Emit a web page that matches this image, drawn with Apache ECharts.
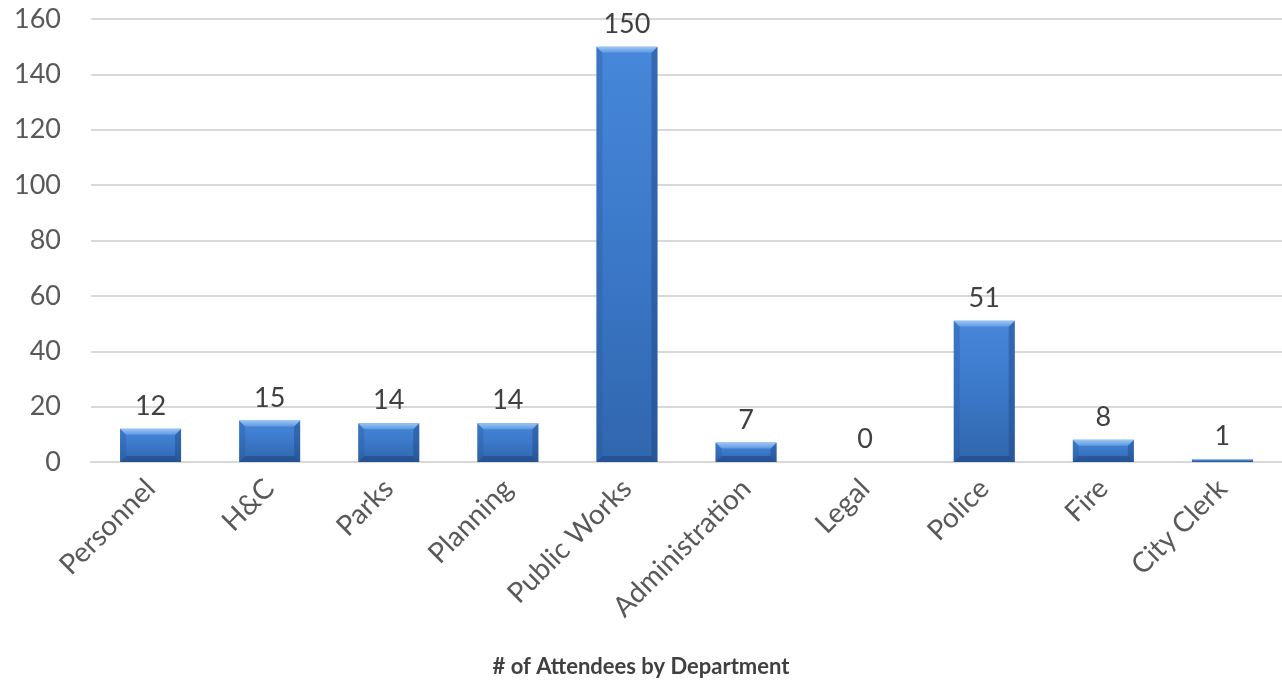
<!DOCTYPE html>
<html>
<head>
<meta charset="utf-8">
<script src="https://cdn.jsdelivr.net/npm/echarts@6/dist/echarts.min.js"></script>
<style>
	html, body { margin: 0; padding: 0; background: #fff; }
	#chart { width: 1282px; height: 683px; }
</style>
</head>
<body>
<div id="chart"></div>
<script>
var departments = ['Personnel', 'H&C', 'Parks', 'Planning', 'Public Works', 'Administration', 'Legal', 'Police', 'Fire', 'City Clerk'];
var attendees = [12, 15, 14, 14, 150, 7, 0, 51, 8, 1];
var yTicks = [0, 20, 40, 60, 80, 100, 120, 140, 160];

var fontFamily = 'Lato, "Open Sans", sans-serif';
var BAR_W = 61;

// face of the bar
var barColor = new echarts.graphic.LinearGradient(0, 0, 0, 1, [
	{ offset: 0, color: '#4687da' },
	{ offset: 0.5, color: '#3b78c8' },
	{ offset: 1, color: '#3066ad' }
]);

/**
 * bevel edges drawn over each bar
 */
var renderBevel = function (params, api) {
	var val = api.value(1);
	if (!val) {
		return null;
	}
	var top = api.coord([api.value(0), val]);
	var base = api.coord([api.value(0), 0]);
	var x0 = top[0] - BAR_W / 2;
	var x1 = top[0] + BAR_W / 2;
	var y0 = top[1];
	var y1 = base[1];
	var b = Math.min(6, (y1 - y0) / 2);
	var poly = function (pts, fill) {
		return { type: 'polygon', shape: { points: pts }, style: { fill: fill }, silent: true };
	};
	return {
		type: 'group',
		children: [
			poly([[x0, y0], [x0 + b, y0 + b], [x0 + b, y1 - b], [x0, y1]], 'rgba(40,90,160,0.35)'),
			poly([[x1, y0], [x1 - b, y0 + b], [x1 - b, y1 - b], [x1, y1]], 'rgba(30,70,130,0.45)'),
			poly([[x0, y1], [x0 + b, y1 - b], [x1 - b, y1 - b], [x1, y1]], 'rgba(25,60,115,0.45)'),
			poly([[x0, y0], [x1, y0], [x1 - b, y0 + b], [x0 + b, y0 + b]], new echarts.graphic.LinearGradient(0, 0, 0, 1, [
				{ offset: 0, color: '#9cc6f4' },
				{ offset: 1, color: '#5c98e2' }
			]))
		]
	};
};

var chart = echarts.init(document.getElementById('chart'));
chart.setOption({
	animation: false,
	title: {
		text: '# of Attendees by Department',
		left: 'center',
		top: 651,
		textStyle: {
			fontFamily: fontFamily,
			fontSize: 22,
			fontWeight: 'bold',
			color: '#404040'
		}
	},
	grid: {
		left: 91,
		right: -11,
		top: 19,
		bottom: 221
	},
	xAxis: {
		type: 'category',
		data: departments,
		axisLine: { lineStyle: { color: '#d9d9d9', width: 2 } },
		axisTick: { show: false },
		axisLabel: {
			rotate: 45,
			interval: 0,
			margin: 22,
			fontFamily: fontFamily,
			fontSize: 28,
			color: '#595959'
		}
	},
	yAxis: {
		type: 'value',
		min: yTicks[0],
		max: yTicks[yTicks.length - 1],
		interval: 20,
		axisLine: { show: false },
		axisTick: { show: false },
		splitLine: { lineStyle: { color: '#d9d9d9', width: 2 } },
		axisLabel: {
			margin: 30,
			fontFamily: fontFamily,
			fontSize: 27,
			color: '#595959'
		}
	},
	series: [
		{
			type: 'bar',
			data: attendees,
			barWidth: BAR_W,
			itemStyle: {
				color: barColor
			},
			label: {
				show: true,
				position: 'top',
				distance: 9,
				fontFamily: fontFamily,
				fontSize: 27,
				color: '#404040'
			}
		},
		{
			type: 'custom',
			silent: true,
			renderItem: renderBevel,
			data: attendees.map(function (v, i) { return [i, v]; }),
			encode: { x: 0, y: 1 },
			z: 3
		}
	]
});
</script>
</body>
</html>
